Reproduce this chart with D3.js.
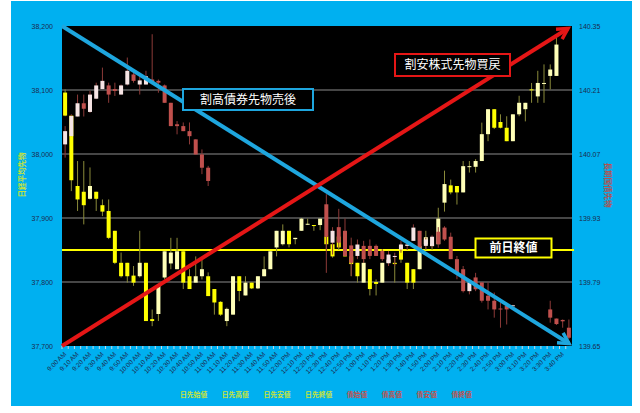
<!DOCTYPE html>
<html><head><meta charset="utf-8">
<script src="https://cdn.jsdelivr.net/npm/d3@7"></script>
<style>body{margin:0;background:#fff}svg{display:block}</style>
</head><body>
<svg id="c" width="640" height="413"></svg>
<script>
const times = ["9:00 AM","9:05 AM","9:10 AM","9:15 AM","9:20 AM","9:25 AM","9:30 AM","9:35 AM","9:40 AM","9:45 AM",
"9:50 AM","9:55 AM","10:00 AM","10:05 AM","10:10 AM","10:15 AM","10:20 AM","10:25 AM","10:30 AM","10:35 AM",
"10:40 AM","10:45 AM","10:50 AM","10:55 AM","11:00 AM","11:05 AM","11:10 AM","11:15 AM","11:20 AM","11:25 AM",
"11:30 AM","11:35 AM","11:40 AM","11:45 AM","11:50 AM","11:55 AM","12:00 PM","12:05 PM","12:10 PM","12:15 PM",
"12:20 PM","12:25 PM","12:30 PM","12:35 PM","12:40 PM","12:45 PM","12:50 PM","12:55 PM","1:00 PM","1:05 PM",
"1:10 PM","1:15 PM","1:20 PM","1:25 PM","1:30 PM","1:35 PM","1:40 PM","1:45 PM","1:50 PM","1:55 PM",
"2:00 PM","2:05 PM","2:10 PM","2:15 PM","2:20 PM","2:25 PM","2:30 PM","2:35 PM","2:40 PM","2:45 PM",
"2:50 PM","2:55 PM","3:00 PM","3:05 PM","3:10 PM","3:15 PM","3:20 PM","3:25 PM","3:30 PM","3:35 PM",
"3:40 PM","3:45 PM"];

// Nikkei 225 futures (left axis)
const nkOpen  = [38096,38060,37950,37941,37930,37941,37920,37911,37880,37830,37830,37810,37809,37830,37742,37750,37807,37829,37820,37848,
37809,37799,37809,37809,37789,37769,37739,37749,37809,37779,37799,37790,37809,37820,37854,37859,37880,37867,37880,37890,
37889,37889,37871,37859,37871,37851,37840,37830,37799,37820,37800,37799,37830,37830,37856,37830,37820,37820,37859,37856,
37859,37924,37951,37950,37940,37980,37980,37989,38031,38070,38050,38041,38020,38062,38070,38101,38090,38111,38122,38122,null,null];
const nkHigh  = [38101,38060,37989,37989,37979,37941,37929,37929,37880,37846,37830,37825,37880,37830,37757,37794,37848,37869,37869,37848,
37820,37840,37838,37815,37789,37770,37760,37809,37809,37809,37799,37809,37840,37848,37880,37890,37880,37869,37900,37899,
37889,37899,37880,37859,37880,37854,37846,37830,37835,37820,37804,37830,37840,37840,37860,37830,37820,37859,37880,37870,
37916,37974,37960,37950,37989,37989,37992,38049,38070,38070,38062,38059,38062,38091,38080,38111,38130,38140,38140,38182,null,null];
const nkLow   = [38059,37942,37911,37890,37929,37911,37903,37867,37828,37807,37799,37794,37807,37739,37731,37739,37804,37820,37820,37789,
37789,37799,37804,37778,37749,37747,37731,37749,37770,37779,37789,37789,37809,37820,37840,37857,37854,37859,37880,37889,
37880,37881,37850,37838,37850,37840,37809,37799,37799,37779,37779,37799,37825,37799,37830,37789,37789,37820,37850,37850,
37859,37910,37937,37921,37940,37971,37971,37989,38020,38039,38040,38020,38020,38059,38051,38080,38080,38080,38101,38122,null,null];
const nkClose = [38060,37959,37929,37920,37950,37930,37910,37869,37830,37809,37809,37799,37830,37739,37739,37794,37848,37846,37848,37799,
37789,37809,37820,37778,37768,37749,37758,37809,37786,37799,37790,37809,37820,37848,37880,37880,37859,37869,37899,37891,
37888,37899,37859,37840,37854,37840,37828,37809,37830,37789,37797,37830,37835,37828,37835,37799,37799,37856,37870,37860,
37899,37953,37940,37940,37981,37981,37989,38031,38070,38041,38041,38020,38062,38080,38080,38100,38111,38111,38132,38171,null,null];

// JGB futures (right axis)
const bdOpen  = [140.091,140.109,140.152,140.181,140.162,140.191,140.212,140.220,140.212,140.200,140.222,140.244,140.222,140.222,140.233,140.230,140.220,140.182,140.135,140.131,
140.120,140.102,140.069,140.040,null,null,null,null,null,null,null,null,null,null,null,null,null,null,null,null,
null,null,139.960,139.876,139.910,139.902,139.870,139.847,139.869,139.869,139.869,139.858,139.831,139.846,139.861,139.869,139.880,139.902,139.869,139.869,
139.900,139.909,139.889,139.840,139.818,139.770,139.800,139.789,139.760,139.749,139.732,139.738,139.739,null,null,null,null,null,139.730,139.710,139.707,139.690];
const bdHigh  = [140.131,140.157,140.200,140.200,140.208,140.226,140.259,140.226,140.226,140.222,140.281,140.252,140.240,140.252,140.332,140.233,140.222,140.182,140.142,140.139,
140.139,140.102,140.080,140.044,null,null,null,null,null,null,null,null,null,null,null,null,null,null,null,null,
null,null,139.982,139.910,139.950,139.929,139.887,139.883,139.880,139.883,139.872,139.862,139.858,139.854,139.880,139.876,139.916,139.902,139.887,139.892,
139.910,139.912,139.898,139.847,139.825,139.796,139.810,139.789,139.789,139.767,139.745,139.745,139.740,null,null,null,null,null,139.749,139.710,139.708,139.708];
const bdLow   = [140.062,140.109,140.152,140.152,140.160,140.190,140.212,140.182,140.197,140.200,140.220,140.226,140.200,140.222,140.222,140.204,140.182,140.131,140.113,140.120,
140.091,140.069,140.026,140.000,null,null,null,null,null,null,null,null,null,null,null,null,null,null,null,null,
null,null,139.810,139.850,139.865,139.847,139.803,139.840,139.832,139.840,139.847,139.836,139.825,139.825,139.854,139.860,139.880,139.865,139.862,139.865,
139.865,139.880,139.840,139.796,139.767,139.763,139.770,139.745,139.730,139.712,139.690,139.697,139.738,null,null,null,null,null,139.701,139.696,139.690,139.665];
const bdClose = [140.120,140.153,140.181,140.169,140.200,140.220,140.230,140.200,140.208,140.220,140.252,140.230,140.231,140.240,140.226,140.226,140.182,140.131,140.131,140.120,
140.109,140.069,140.040,140.011,null,null,null,null,null,null,null,null,null,null,null,null,null,null,null,null,
null,null,139.889,139.902,139.876,139.847,139.832,139.872,139.840,139.847,139.847,139.840,139.850,139.847,139.872,139.872,139.909,139.865,139.883,139.889,
139.873,139.883,139.840,139.810,139.770,139.789,139.774,139.749,139.749,139.730,139.730,139.730,139.739,null,null,null,null,null,139.712,139.698,139.704,139.668];

const leftTicks  = [37700,37800,37900,38000,38100,38200];
const rightTicks = [139.65,139.79,139.93,140.07,140.21,140.35];
const prevClose = 37850;
const legendNk = ["日先始値","日先高値","日先安値","日先終値"];
const legendBd = ["債始値","債高値","債安値","債終値"];
const leftTitle = "日経平均先物";
const rightTitle = "長期国債先物";

const svg = d3.select("#c");
const P = {l:62, r:572, t:26, b:346};
const CJK = "'Noto Sans CJK JP','Noto Sans',sans-serif";
const LAB = "#1c2b4f";

svg.append("rect").attr("x",11).attr("y",1).attr("width",621).attr("height",405).attr("fill","#00b0f0");
svg.append("rect").attr("x",P.l).attr("y",P.t).attr("width",P.r-P.l).attr("height",P.b-P.t).attr("fill","#000");

const x = d3.scaleBand().domain(times).range([P.l,P.r]).paddingInner(0).paddingOuter(0);
const yL = d3.scaleLinear().domain([37700,38200]).range([P.b,P.t]);
const yR = d3.scaleLinear().domain([139.65,140.35]).range([P.b,P.t]);

// gridlines
svg.append("g").selectAll("line").data(leftTicks.slice(1,-1)).join("line")
  .attr("x1",P.l).attr("x2",P.r).attr("y1",d=>yL(d)).attr("y2",d=>yL(d))
  .attr("stroke","#8c8c8c").attr("stroke-width",1);

// left axis
const gl = svg.append("g").attr("transform",`translate(${P.l},0)`)
  .call(d3.axisLeft(yL).tickValues(leftTicks).tickFormat(d3.format(",")).tickSize(0).tickPadding(9));
gl.select(".domain").remove();
gl.selectAll("text").attr("font-family","'Liberation Sans',Arial,sans-serif").attr("font-size",7).attr("fill",LAB);

// right axis
const gr = svg.append("g").attr("transform",`translate(${P.r},0)`)
  .call(d3.axisRight(yR).tickValues(rightTicks).tickFormat(d3.format(".2f")).tickSize(0).tickPadding(7));
gr.select(".domain").remove();
gr.selectAll("text").attr("font-family","'Liberation Sans',Arial,sans-serif").attr("font-size",7).attr("fill",LAB);

// x tick marks
svg.append("g").selectAll("line").data(times).join("line")
  .attr("x1",d=>x(d)).attr("x2",d=>x(d)).attr("y1",P.b).attr("y2",P.b+3)
  .attr("stroke","#c8d8e0").attr("stroke-width",1);

// x labels
const gx = svg.append("g").attr("transform",`translate(0,${P.b})`)
  .call(d3.axisBottom(x).tickValues(times.filter((d,i)=>i%2===0)).tickSize(0).tickPadding(0));
gx.select(".domain").remove();
gx.selectAll("text").attr("font-family","'Liberation Sans',Arial,sans-serif").attr("font-size",6.5).attr("fill",LAB)
  .attr("text-anchor","end").attr("y",0).attr("dy","0.35em").attr("transform","translate(0,7) rotate(-45)");

// previous close line
svg.append("line").attr("x1",P.l).attr("x2",P.r+2).attr("y1",yL(prevClose)).attr("y2",yL(prevClose))
  .attr("stroke","#ffff00").attr("stroke-width",2);

function candles(O,H,L,C,y,cfg){
  const idx = d3.range(times.length).filter(i=>O[i]!=null);
  const g = svg.append("g");
  const cx = i=>x(times[i])+x.bandwidth()/2;
  g.selectAll("line").data(idx).join("line")
    .attr("x1",cx).attr("x2",cx).attr("y1",i=>y(H[i])).attr("y2",i=>y(L[i]))
    .attr("stroke",cfg.wick).attr("stroke-width",1);
  const bw = 4;
  g.selectAll("rect").data(idx).join("rect")
    .attr("x",i=>cx(i)-bw/2).attr("width",bw)
    .attr("y",i=>y(Math.max(O[i],C[i])))
    .attr("height",i=>Math.max(1,Math.abs(y(O[i])-y(C[i]))))
    .attr("fill",i=>C[i]>=O[i]?cfg.up:cfg.down);
}
candles(nkOpen,nkHigh,nkLow,nkClose,yL,{wick:"#8a8a3a",up:"#ffffb8",down:"#ffff00"});
candles(bdOpen,bdHigh,bdLow,bdClose,yR,{wick:"#8c3a38",up:"#f6e4e4",down:"#c0504d"});

// arrows
function arrow(x1,y1,x2,y2,col){
  svg.append("line").attr("x1",x1).attr("y1",y1).attr("x2",x2).attr("y2",y2)
    .attr("stroke",col).attr("stroke-width",4);
  const a = Math.atan2(y2-y1,x2-x1), len=12, sp=0.5;
  const p = [[x2-len*Math.cos(a-sp),y2-len*Math.sin(a-sp)],[x2,y2],[x2-len*Math.cos(a+sp),y2-len*Math.sin(a+sp)]];
  svg.append("path").attr("d",d3.line()(p)).attr("fill","none").attr("stroke",col)
    .attr("stroke-width",3.5).attr("stroke-linejoin","miter").attr("stroke-linecap","butt");
}
arrow(P.l,yL(38200),P.r-3,yL(37704),"#1ea6de");
arrow(P.l,yL(37700),P.r-4,yL(38196),"#e51616");

// annotation boxes
function box(cx,cy,w,h,txt,col,bold){
  svg.append("rect").attr("x",cx-w/2).attr("y",cy-h/2).attr("width",w).attr("height",h)
    .attr("fill","#000").attr("stroke",col).attr("stroke-width",2);
  svg.append("text").attr("x",cx).attr("y",cy).attr("dy","0.36em").attr("text-anchor","middle")
    .attr("font-family",CJK).attr("font-size",12).attr("font-weight",bold?"bold":"normal")
    .attr("fill","#fff").text(txt);
}
box(248,99.5,130,21,"割高債券先物売後","#1ea6de",false);
box(452.5,65,115,22,"割安株式先物買戻","#e51616",false);
box(513.5,248,76,19,"前日終値","#ffff00",true);

// axis titles
svg.append("text").attr("transform","translate(22,175) rotate(-90)").attr("text-anchor","middle").attr("dy","0.35em")
  .attr("font-family",CJK).attr("font-size",7.5).attr("font-weight","bold").attr("fill","#c5e33a").text(leftTitle);
svg.append("text").attr("transform","translate(608,185) rotate(90)").attr("text-anchor","middle").attr("dy","0.35em")
  .attr("font-family",CJK).attr("font-size",7.5).attr("font-weight","bold").attr("fill","#b5504d").text(rightTitle);

// legend
let lx = 180;
const items = legendNk.map(t=>({t,c:"#c5e33a"})).concat(legendBd.map(t=>({t,c:"#c0504d"})));
items.forEach(it=>{
  svg.append("text").attr("x",lx).attr("y",395).attr("dy","0.35em")
    .attr("font-family",CJK).attr("font-size",6.8).attr("font-weight","bold").attr("fill",it.c).text(it.t);
  lx += it.t.length*6.8 + 14.5;
});
</script>
</body></html>
